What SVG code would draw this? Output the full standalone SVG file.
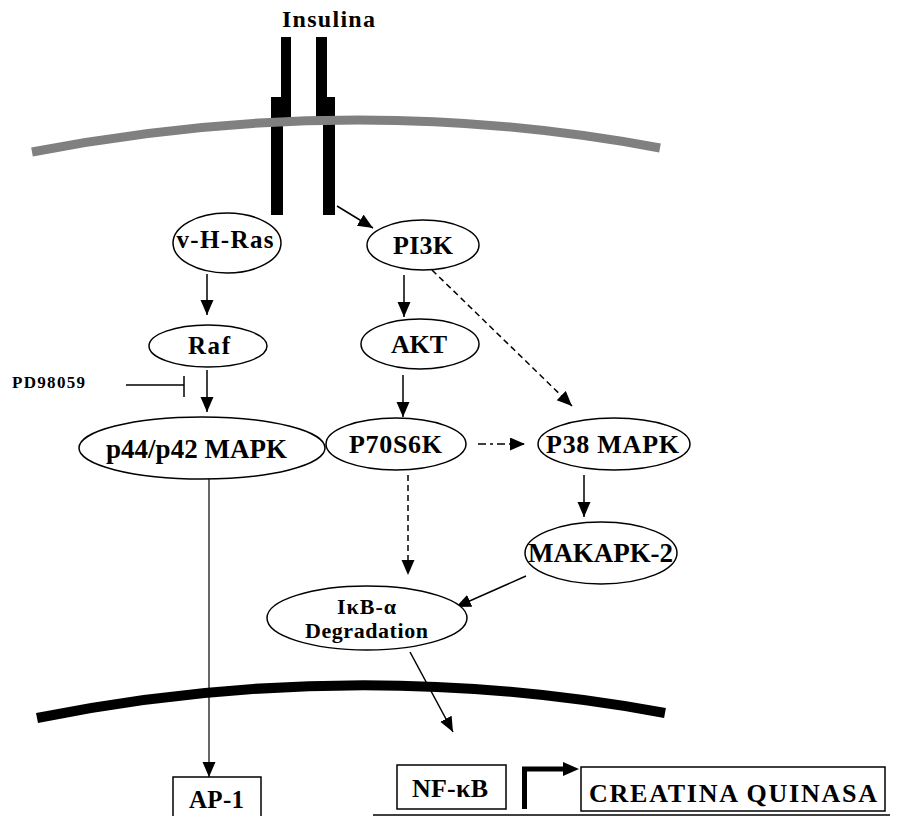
<svg xmlns="http://www.w3.org/2000/svg" width="899" height="816" viewBox="0 0 899 816">
<defs>
<marker id="ah" markerUnits="userSpaceOnUse" markerWidth="16" markerHeight="14" refX="15" refY="6.5" orient="auto">
<path d="M0,0 L15,6.5 L0,13 z" fill="#000"/>
</marker>
<style>
.lbl{font-family:"Liberation Serif","Times New Roman",serif;font-weight:bold;fill:#000;text-anchor:middle}
.nd{fill:#fff;stroke:#000;stroke-width:1.5}
.bx{fill:#fff;stroke:#000;stroke-width:1.5}
.c{fill:none;stroke:#000;stroke-width:1.5}
.arr{marker-end:url(#ah)}
.dash{stroke-dasharray:6 4}
.dashdot{stroke-dasharray:8 4 3 4}
</style>
</defs>
<rect width="899" height="816" fill="#fff"/>

<g id="receptor">
<rect x="281" y="37" width="10" height="83" fill="#000"/>
<rect x="271" y="97" width="12" height="118" fill="#000"/>
<rect x="316" y="37" width="11" height="83" fill="#000"/>
<rect x="323" y="97" width="12" height="118" fill="#000"/>
</g>
<g id="plasma-membrane">
<path d="M32,152 Q350,90 660,148" fill="none" stroke="#808080" stroke-width="9"/>
</g>
<g id="nuclear-membrane">
<path d="M37,718 Q350,655 665,713" fill="none" stroke="#000" stroke-width="10"/>
</g>
<g id="insulina">
<text class="lbl" x="328.5" y="27" font-size="24" textLength="93" lengthAdjust="spacing">Insulina</text>
</g>

<g id="connectors">
<line class="c arr" x1="337" y1="206" x2="373" y2="228"/>
<line class="c arr" x1="207" y1="274" x2="207" y2="315"/>
<line class="c arr" x1="207" y1="370" x2="207" y2="412"/>
<line class="c" x1="126" y1="385" x2="184" y2="385"/>
<line class="c" x1="184" y1="376" x2="184" y2="397"/>
<line class="c arr" x1="404" y1="275" x2="404" y2="317"/>
<line class="c arr" x1="403" y1="375" x2="403" y2="417"/>
<line class="c arr dash" x1="432" y1="270" x2="572" y2="406"/>
<line class="c arr dashdot" x1="478" y1="444" x2="525" y2="444"/>
<line class="c arr dash" x1="408" y1="475" x2="408" y2="575"/>
<line class="c arr" x1="584" y1="475" x2="584" y2="517"/>
<line class="c arr" x1="526" y1="576" x2="456" y2="607"/>
<line class="c arr" x1="410" y1="652" x2="453" y2="732"/>
<line class="c arr" x1="209" y1="479" x2="209" y2="777" style="stroke-width:1.2"/>
<path d="M524.5,809 V769 H566" fill="none" stroke="#000" stroke-width="5"/>
<polygon points="563,762 579,769 563,776" fill="#000"/>
<line x1="373" y1="815" x2="890" y2="815" stroke="#000" stroke-width="1.5"/>
</g>

<g id="vhras">
<ellipse class="nd" cx="227" cy="243" rx="54" ry="30"/>
<text class="lbl" x="225" y="248" font-size="25" textLength="97" lengthAdjust="spacing">v-H-Ras</text>
</g>
<g id="raf">
<ellipse class="nd" cx="208" cy="346" rx="59" ry="21"/>
<text class="lbl" x="209" y="354" font-size="25" textLength="42" lengthAdjust="spacing">Raf</text>
</g>
<g id="pd98059">
<text class="lbl" x="12" y="388" font-size="17" textLength="73" lengthAdjust="spacing" style="text-anchor:start">PD98059</text>
</g>
<g id="p44">
<ellipse class="nd" cx="202" cy="448" rx="123" ry="31"/>
<text class="lbl" x="196.5" y="458" font-size="27" textLength="181" lengthAdjust="spacing">p44/p42 MAPK</text>
</g>
<g id="pi3k">
<ellipse class="nd" cx="423" cy="245" rx="56" ry="25"/>
<text class="lbl" x="423" y="254" font-size="26" textLength="60" lengthAdjust="spacing">PI3K</text>
</g>
<g id="akt">
<ellipse class="nd" cx="420" cy="344" rx="59" ry="25"/>
<text class="lbl" x="419" y="353" font-size="26" textLength="56" lengthAdjust="spacing">AKT</text>
</g>
<g id="p70s6k">
<ellipse class="nd" cx="396" cy="444" rx="70" ry="26"/>
<text class="lbl" x="395.5" y="453" font-size="26" textLength="93" lengthAdjust="spacing">P70S6K</text>
</g>
<g id="p38">
<ellipse class="nd" cx="614" cy="444" rx="76" ry="26"/>
<text class="lbl" x="612.5" y="453" font-size="26" textLength="133" lengthAdjust="spacing">P38 MAPK</text>
</g>
<g id="makapk2">
<ellipse class="nd" cx="601" cy="553" rx="76" ry="31"/>
<text class="lbl" x="600.5" y="562" font-size="27" textLength="145" lengthAdjust="spacing">MAKAPK-2</text>
</g>
<g id="ikb">
<ellipse class="nd" cx="367" cy="618" rx="100" ry="32"/>
<text class="lbl" x="366.5" y="614" font-size="22" textLength="59" lengthAdjust="spacing">IκB-α</text>
<text class="lbl" x="366.5" y="638" font-size="22" textLength="123" lengthAdjust="spacing">Degradation</text>
</g>
<g id="ap1">
<rect class="bx" x="173" y="777" width="88" height="45"/>
<text class="lbl" x="216.5" y="808" font-size="25" textLength="55" lengthAdjust="spacing">AP-1</text>
</g>
<g id="nfkb">
<rect class="bx" x="397" y="765" width="109" height="44"/>
<text class="lbl" x="450" y="797" font-size="26" textLength="76" lengthAdjust="spacing">NF-κB</text>
</g>
<g id="creatina">
<rect class="bx" x="581" y="767" width="304" height="44"/>
<text class="lbl" x="733" y="802" font-size="26" textLength="288" lengthAdjust="spacing">CREATINA QUINASA</text>
</g>
</svg>
